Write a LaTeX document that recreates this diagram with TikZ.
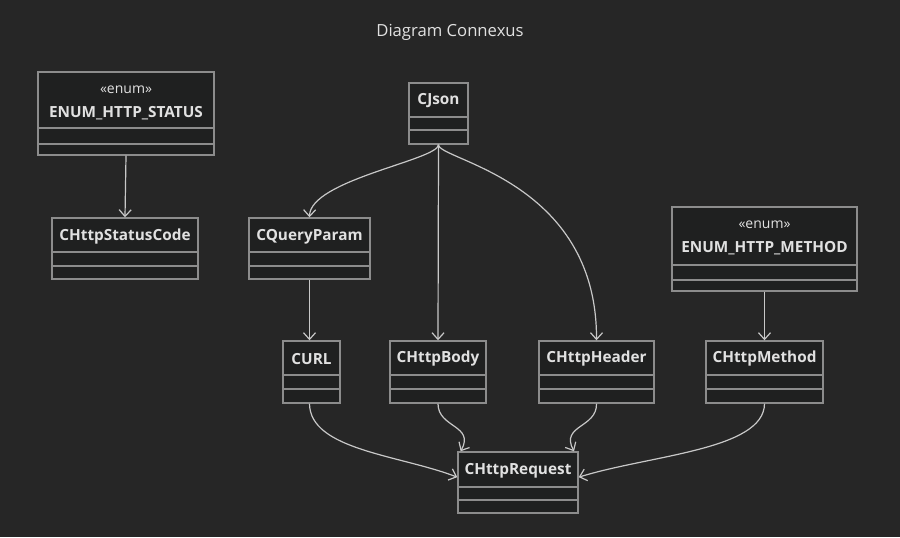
\documentclass[tikz,border=0pt]{standalone}
\usepackage{fontspec}
\setmainfont{Open Sans}
\usetikzlibrary{arrows.meta}
\definecolor{bgc}{RGB}{38,38,38}
\definecolor{boxc}{RGB}{31,32,32}
\definecolor{linec}{RGB}{200,200,200}
\definecolor{bordc}{RGB}{140,140,140}
\definecolor{txtc}{RGB}{225,225,225}
\tikzset{every picture/.style={line width=0.9pt}}
\tikzset{
  cls/.style={draw=bordc, fill=boxc, line width=1.1pt, inner sep=0pt},
  lbl/.style={text=txtc, font=\bfseries\fontsize{11.5}{12}\selectfont, inner sep=0.75pt},
  ster/.style={text=txtc, font=\fontsize{10.5}{12}\selectfont, inner sep=0.75pt},
  sep/.style={draw=bordc, line width=1.1pt},
  rel/.style={draw=linec, line width=0.9pt, -{Straight Barb[length=5pt,width=9pt]}},
}

\begin{document}
\begin{tikzpicture}[x=0.75pt,y=0.75pt,yscale=-1]
\fill[bgc] (0,0) rectangle (900,537);
\useasboundingbox (0,0) rectangle (900,537);

% Text Node
\node[text=txtc, font=\fontsize{12.5}{14}\selectfont] (title) at (450,32) {Diagram Connexus};

%Shape: Class boxes
\node[cls, minimum width=132pt, minimum height=62.25pt] (status) at (126,113.5) {};
\node[cls, minimum width=109.5pt, minimum height=45.75pt] (code) at (125,248.5) {};
\node[cls, minimum width=44.25pt, minimum height=45.75pt] (json) at (438.5,113.5) {};
\node[cls, minimum width=90.75pt, minimum height=45.75pt] (query) at (309.5,248.5) {};
\node[cls, minimum width=138.75pt, minimum height=63pt] (method) at (764.5,249) {};
\node[cls, minimum width=42.75pt, minimum height=46.5pt] (url) at (311.5,372) {};
\node[cls, minimum width=72pt, minimum height=46.5pt] (body) at (438,372) {};
\node[cls, minimum width=86.25pt, minimum height=46.5pt] (header) at (596.5,372) {};
\node[cls, minimum width=87.75pt, minimum height=46.5pt] (hmethod) at (764.5,372) {};
\node[cls, minimum width=90pt, minimum height=45.75pt] (request) at (518,482.5) {};

%Straight Lines: member separators
\draw[sep] (38,128) -- (214,128) (38,144) -- (214,144);
\draw[sep] (52,252) -- (198,252) (52,266) -- (198,266);
\draw[sep] (409,117) -- (468,117) (409,130) -- (468,130);
\draw[sep] (249,252) -- (370,252) (249,266) -- (370,266);
\draw[sep] (672,265) -- (857,265) (672,280) -- (857,280);
\foreach \xa/\xb in {283/340, 390/486, 539/654, 706/823}
  \draw[sep] (\xa,375) -- (\xb,375) (\xa,389) -- (\xb,389);
\draw[sep] (458,487) -- (578,487) (458,500) -- (578,500);

% Text Node
\node[ster] at (126,90) {«enum»};
\node[lbl] (statusT) at (126,113) {ENUM\_HTTP\_STATUS};
\node[lbl] (codeT) at (125,237) {CHttpStatusCode};
\node[lbl] (jsonT) at (438.5,101) {CJson};
\node[lbl] (queryT) at (309.5,237) {CQueryParam};
\node[ster] at (764.5,225) {«enum»};
\node[lbl] (methodT) at (764.5,248) {ENUM\_HTTP\_METHOD};
\node[lbl] (urlT) at (311.5,359) {CURL};
\node[lbl] (bodyT) at (438,359) {CHttpBody};
\node[lbl] (headerT) at (596.5,359) {CHttpHeader};
\node[lbl] (hmethodT) at (764.5,359) {CHttpMethod};
\node[lbl] (requestT) at (518,471) {CHttpRequest};

%Relations
\draw[rel] (status.south) -- (code.north);
\draw[rel] (json.south) .. controls (438,160) and (310,180) .. (query.north);
\draw[rel] (json.south) -- (body.north);
\draw[rel] (json.south) .. controls (438,160) and (597,180) .. (header.north);
\draw[rel] (query.south) -- (url.north -| query.south);
\draw[rel] (method.south) -- (hmethod.north);
\draw[rel] (url.south -| query.south) .. controls (310,450) and (400,455) .. ([yshift=-4]request.west);
\draw[rel] (body.south) .. controls (438,428) and (475,425) .. ([xshift=-43]request.north);
\draw[rel] (header.south) .. controls (597,428) and (560,425) .. ([xshift=42]request.north);
\draw[rel] (hmethod.south) .. controls (764,450) and (650,455) .. ([yshift=-4]request.east);
\end{tikzpicture}
\end{document}
